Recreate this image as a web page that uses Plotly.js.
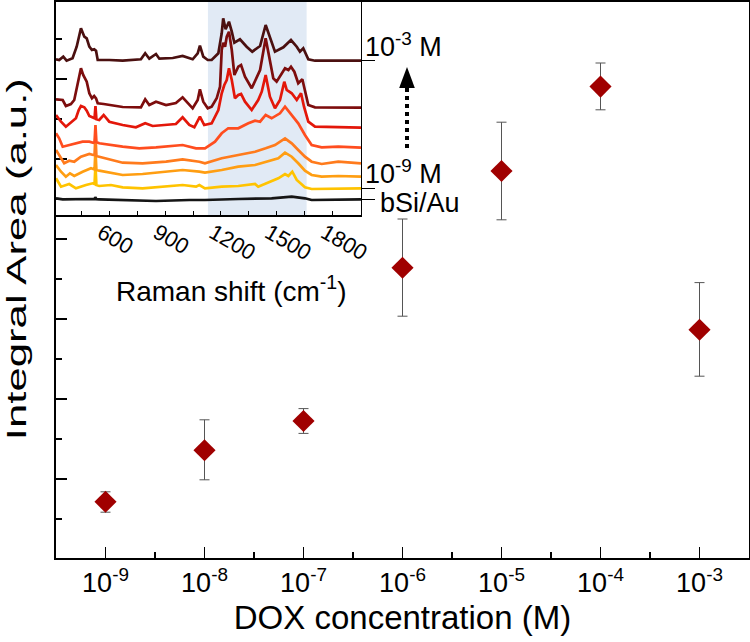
<!DOCTYPE html>
<html>
<head>
<meta charset="utf-8">
<script src="https://cdn.plot.ly/plotly-3.0.1.min.js"></script>
<style>html,body{margin:0;padding:0;background:#fff;}#chart{width:750px;height:642px;}</style>
</head>
<body>
<div id="chart"></div>
<script>
// ---- Main chart data ----
const concentration = [1e-9, 1e-8, 1e-7, 1e-6, 1e-5, 1e-4, 1e-3];
const concLabels = ['10<sup>-9</sup>','10<sup>-8</sup>','10<sup>-7</sup>','10<sup>-6</sup>','10<sup>-5</sup>','10<sup>-4</sup>','10<sup>-3</sup>'];
const integralArea = [1.43, 2.72, 3.45, 7.28, 9.70, 11.81, 5.73];
const errPlus  = [0.25, 0.76, 0.31, 1.22, 1.22, 0.59, 1.18];
const errMinus = [0.26, 0.74, 0.31, 1.21, 1.22, 0.58, 1.16];

// ---- Inset Raman spectra (offset, a.u.) ----
const ramanTicks = [600, 900, 1200, 1500, 1800];
const ramanMinorTicks = [450, 750, 1050, 1350, 1650];
const shadedRange = [1130, 1660];

const shift_bSiAu = [314, 350, 493, 521, 525, 531, 546, 672, 851, 1030, 1114, 1293, 1472, 1580, 1651, 1687, 1952];
const int_bSiAu   = [16.7, 15.7, 16, 15.8, 17.7, 15.8, 15.7, 15, 14, 15, 15, 16, 16.7, 18.3, 16.7, 15, 15.7];

const shift_1e9 = [314, 341, 385, 421, 475, 511, 521, 526, 531, 546, 609, 672, 779, 905, 994, 1066, 1084, 1114, 1204, 1293, 1383, 1400, 1440, 1508, 1544, 1562, 1583, 1607, 1651, 1687, 1952];
const int_1e9   = [36.7, 28.3, 31, 26.7, 30, 31.7, 31, 50, 30, 29, 30, 27.7, 26.7, 28.3, 30, 28.3, 30, 26.7, 28.3, 29, 31, 28.3, 31.7, 36.7, 41, 39, 43.3, 35, 27.7, 26, 26.7];

const shift_1e8 = [314, 341, 367, 389, 412, 457, 502, 514, 521, 526, 531, 546, 672, 779, 905, 994, 1084, 1114, 1204, 1293, 1383, 1440, 1508, 1544, 1580, 1615, 1651, 1687, 1741, 1830, 1952];
const int_1e8   = [50, 43.3, 38.3, 41.7, 39, 43.3, 46.7, 45.7, 45.5, 65, 45, 44.3, 40, 41, 43.3, 45, 43.3, 42.3, 45, 48.3, 50, 53.3, 56.7, 62.3, 58.3, 51.7, 44.3, 40, 38.3, 39, 38.3];

const shift_1e7 = [314, 341, 358, 385, 412, 448, 493, 514, 521, 526, 531, 546, 672, 779, 905, 994, 1084, 1114, 1204, 1293, 1383, 1440, 1490, 1544, 1580, 1615, 1651, 1687, 1741, 1830, 1866, 1952];
const int_1e7   = [65, 56.7, 51.7, 54.3, 53.3, 58.3, 61, 60, 60, 80, 59, 58.3, 52.3, 51.7, 53.3, 55.7, 53.3, 51.7, 56.7, 60, 63.3, 66.7, 70, 76.7, 71.7, 65, 58.3, 53.3, 51, 53.3, 52.7, 51.7];

const shift_1e6 = [314, 331, 350, 385, 421, 457, 493, 514, 521, 526, 531, 546, 672, 761, 851, 994, 1066, 1114, 1168, 1204, 1239, 1293, 1347, 1383, 1410, 1440, 1472, 1517, 1544, 1580, 1615, 1651, 1687, 1741, 1830, 1952];
const int_1e6   = [81.7, 76.7, 68.3, 70, 71.7, 73.3, 73.3, 72.3, 73, 90, 73, 71.7, 68.3, 66.7, 67.7, 70, 66.7, 66.7, 73.3, 81.7, 86.7, 86.7, 91.7, 94.3, 93.3, 100, 96.7, 101.7, 108.3, 100, 91.7, 80, 70, 67.7, 68.3, 67.3];

const shift_1e5 = [314, 341, 367, 394, 421, 436, 448, 466, 479, 493, 514, 521, 526, 531, 546, 570, 600, 672, 743, 793, 833, 905, 958, 994, 1030, 1057, 1087, 1110, 1150, 1186, 1204, 1218, 1231, 1243, 1258, 1275, 1293, 1308, 1329, 1365, 1400, 1419, 1440, 1463, 1490, 1517, 1540, 1553, 1580, 1607, 1630, 1646, 1669, 1705, 1952];
const int_1e5   = [100, 93.3, 88.3, 92.3, 96.7, 105, 109, 107.7, 104.3, 99, 97.7, 96.7, 109, 95.7, 95, 100, 93.3, 90, 87.7, 91.7, 89, 90, 91, 97.7, 90, 87.7, 98.3, 90, 91.7, 105, 121.7, 130, 135, 146.7, 135, 116.7, 120, 121, 113.3, 105, 115, 123.3, 140, 118.3, 106.7, 115, 133.3, 125, 121.7, 115, 121.7, 108.3, 93.3, 88.3, 87.3];

const shift_1e4 = [314, 350, 367, 394, 412, 430, 448, 460, 479, 493, 507, 519, 529, 538, 570, 672, 770, 793, 815, 851, 905, 958, 994, 1048, 1075, 1087, 1105, 1129, 1150, 1177, 1195, 1204, 1212, 1222, 1231, 1243, 1258, 1272, 1293, 1308, 1329, 1365, 1410, 1440, 1458, 1481, 1499, 1526, 1544, 1562, 1576, 1594, 1615, 1637, 1651, 1669, 1705, 1952];
const int_1e4   = [115.7, 115, 109, 111, 115, 130, 146.7, 140, 133.3, 121.7, 116.7, 119, 116.7, 111.7, 111, 108, 107.7, 115.7, 110, 113.3, 110, 112, 117.7, 106.7, 115, 125.7, 113.3, 106.7, 108.3, 116.7, 128.3, 165, 172.3, 168.3, 178.3, 183.3, 165, 140, 148.3, 150, 138.3, 126.7, 145, 176.7, 158.3, 136.7, 133.3, 141.7, 146.7, 145, 148.3, 143.3, 131.7, 135.7, 125, 110, 107.7, 107.3];

const shift_1e3 = [314, 331, 353, 371, 403, 425, 448, 466, 479, 493, 507, 519, 529, 538, 600, 672, 770, 793, 815, 851, 869, 941, 994, 1048, 1075, 1087, 1105, 1129, 1150, 1186, 1204, 1212, 1225, 1243, 1258, 1272, 1302, 1338, 1368, 1410, 1440, 1463, 1490, 1535, 1576, 1607, 1624, 1642, 1669, 1705, 1952];
const int_1e3   = [155.7, 155, 158.3, 154.3, 156.7, 168.3, 186.7, 178.3, 176.7, 168.3, 165, 165.7, 164.3, 155, 155, 154.3, 155.7, 161.7, 156.3, 161, 156.3, 157, 159, 155.7, 161.7, 169.3, 158.3, 155, 155, 161.7, 181.7, 196.7, 185.7, 193.3, 183.3, 172.3, 175.7, 168.3, 163.3, 169, 190, 178.3, 163.3, 167.7, 175, 168.3, 163.3, 166.7, 155.7, 154.3, 154.3];

const spectra = [
  {x: shift_bSiAu, y: int_bSiAu, color: '#151515', name: 'bSi/Au'},
  {x: shift_1e9, y: int_1e9, color: '#FFC300', name: '1e-9 M'},
  {x: shift_1e8, y: int_1e8, color: '#FF9E12', name: '1e-8 M'},
  {x: shift_1e7, y: int_1e7, color: '#FF7B1C', name: '1e-7 M'},
  {x: shift_1e6, y: int_1e6, color: '#FF4D1F', name: '1e-6 M'},
  {x: shift_1e5, y: int_1e5, color: '#E3170A', name: '1e-5 M'},
  {x: shift_1e4, y: int_1e4, color: '#7D0D0D', name: '1e-4 M'},
  {x: shift_1e3, y: int_1e3, color: '#4B1010', name: '1e-3 M'}
];

const FONT = 'Liberation Sans, Arial, sans-serif';

const traces = [{
  type: 'scatter', mode: 'markers',
  x: concentration, y: integralArea,
  xaxis: 'x', yaxis: 'y',
  marker: {symbol: 'diamond', size: 17, color: '#A00000'},
  error_y: {type: 'data', symmetric: false, array: errPlus, arrayminus: errMinus,
            color: '#555555', thickness: 1, width: 5},
  showlegend: false, hoverinfo: 'x+y'
}];
spectra.forEach(s => traces.push({
  type: 'scatter', mode: 'lines', x: s.x, y: s.y, name: s.name,
  xaxis: 'x2', yaxis: 'y2', line: {color: s.color, width: 2.7}, showlegend: false
}));

const minorConc = concentration.slice(0, -1).map(c => c * Math.sqrt(10));
const lastVal = a => a[a.length - 1];

const layout = {
  width: 750, height: 642,
  margin: {l: 56, r: 1, t: 2, b: 84},
  paper_bgcolor: '#ffffff', plot_bgcolor: 'rgba(0,0,0,0)',
  font: {family: FONT, color: '#000'},
  showlegend: false,
  xaxis: {
    type: 'log', range: [-9.5, -2.5],
    tickmode: 'array', tickvals: concentration, ticktext: concLabels,
    ticks: 'inside', ticklen: 11, tickwidth: 1.5, tickcolor: '#000',
    minor: {tickmode: 'array', tickvals: minorConc, ticks: 'inside', ticklen: 6, tickwidth: 1.5, tickcolor: '#000'},
    showline: true, mirror: true, linewidth: 2, linecolor: '#000',
    showgrid: false, zeroline: false,
    tickfont: {size: 27, family: FONT},
    title: {text: 'DOX concentration (M)', font: {size: 33, family: FONT}, standoff: 8}
  },
  yaxis: {
    range: [0.025, 13.925], tickmode: 'linear', tick0: 0, dtick: 2,
    ticks: 'inside', ticklen: 11, tickwidth: 1.5, tickcolor: '#000',
    minor: {tick0: 0, dtick: 1, ticks: 'inside', ticklen: 6, tickwidth: 1.5, tickcolor: '#000'},
    showticklabels: false,
    showline: true, mirror: true, linewidth: 2, linecolor: '#000',
    showgrid: false, zeroline: false
  },
  xaxis2: {
    domain: [0, 0.4401], anchor: 'y2', range: [314, 1952],
    tickmode: 'array', tickvals: ramanTicks, ticktext: ramanTicks.map(String),
    ticks: 'inside', ticklen: 4, tickwidth: 1, tickcolor: '#000',
    minor: {tickmode: 'array', tickvals: ramanMinorTicks, ticks: 'inside', ticklen: 4, tickwidth: 1, tickcolor: '#000'},
    tickangle: 30, ticklabelshift: -8, ticklabelstandoff: -5,
    tickfont: {size: 22, family: FONT},
    showline: true, linewidth: 1.5, linecolor: '#000',
    showgrid: false, zeroline: false
  },
  yaxis2: {
    domain: [0.6169, 1], anchor: 'x2', range: [0, 213], side: 'right',
    tickmode: 'array', tickvals: [lastVal(int_bSiAu), lastVal(int_1e9), lastVal(int_1e3)],
    ticks: 'outside', ticklen: 13, tickwidth: 1, tickcolor: '#000',
    showticklabels: false,
    showline: true, linewidth: 1.5, linecolor: '#000',
    showgrid: false, zeroline: false
  },
  shapes: [
    {type: 'rect', xref: 'x2', yref: 'y2 domain', x0: shadedRange[0], x1: shadedRange[1], y0: 0, y1: 1,
     fillcolor: '#E1EAF5', line: {width: 0}, layer: 'below'},
    {type: 'line', xref: 'paper', yref: 'paper', x0: 0.5065, x1: 0.5065, y0: 0.7374, y1: 0.8453,
     line: {color: '#000', width: 4, dash: 'dot'}},
    {type: 'path', xref: 'paper', yref: 'paper', path: 'M 0.4952 0.8453 L 0.5178 0.8453 L 0.5065 0.8831 Z',
     fillcolor: '#000', line: {width: 0}}
  ],
  annotations: [
    {text: 'Integral Area (a.u.)', xref: 'paper', yref: 'paper', x: -0.0563, y: 0.5378,
     textangle: -90, showarrow: false, xanchor: 'center', yanchor: 'middle', font: {size: 27, family: FONT}},
    {text: 'Raman shift (cm<sup>-1</sup>)', xref: 'paper', yref: 'paper', x: 0.253, y: 0.4838,
     showarrow: false, xanchor: 'center', yanchor: 'middle', font: {size: 28, family: FONT}},
    {text: '10<sup>-3</sup> M', xref: 'paper', yref: 'paper', x: 0.443, y: 0.9227,
     showarrow: false, xanchor: 'left', yanchor: 'middle', font: {size: 27, family: FONT}},
    {text: '10<sup>-9</sup> M', xref: 'paper', yref: 'paper', x: 0.443, y: 0.695,
     showarrow: false, xanchor: 'left', yanchor: 'middle', font: {size: 27, family: FONT}},
    {text: 'bSi/Au', xref: 'paper', yref: 'paper', x: 0.4646, y: 0.638,
     showarrow: false, xanchor: 'left', yanchor: 'middle', font: {size: 27, family: FONT}}
  ]
};

Plotly.newPlot('chart', traces, layout, {displayModeBar: false, staticPlot: true}).then(gd => {
  gd.querySelectorAll('.annotation-text').forEach(t => {
    if (t.textContent.indexOf('Integral') === 0) {
      t.setAttribute('textLength', '362');
      t.setAttribute('lengthAdjust', 'spacingAndGlyphs');
    }
  });
});
</script>
</body>
</html>
